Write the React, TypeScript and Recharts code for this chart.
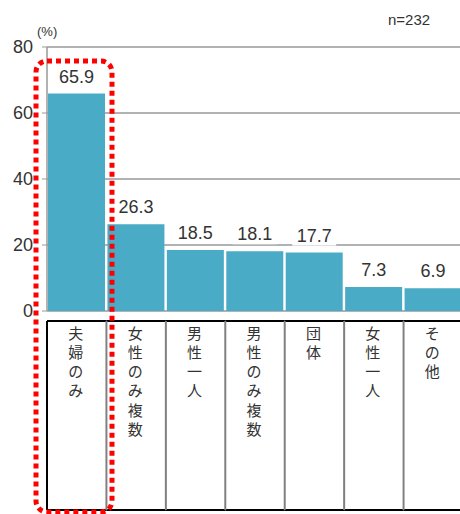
import { BarChart, Bar, XAxis, YAxis, CartesianGrid, LabelList } from "recharts";

const categories = ["夫婦のみ", "女性のみ複数", "男性一人", "男性のみ複数", "団体", "女性一人", "その他"];
const shares = [65.9, 26.3, 18.5, 18.1, 17.7, 7.3, 6.9];
const yTicks = [0, 20, 40, 60, 80];

const data = categories.map((name, i) => ({ name, value: shares[i] }));

const CHART_W = 470;
const CHART_H = 514;
const X_AXIS_H = 203;
const MARGIN = { top: 47, right: 7, bottom: 0, left: 0 };
const Y_AXIS_W = 47;
const BAND = (CHART_W - MARGIN.left - MARGIN.right - Y_AXIS_W) / categories.length;

const NUM_FONT = "'Liberation Sans', Arial, sans-serif";
const JP_FONT = "'Noto Sans CJK JP', sans-serif";
const BAR_COLOR = "#4aabc6";

// table cell under each bar: borders plus the label written top-to-bottom
function TableTick(props: any) {
  const { x, y, payload, index } = props;
  const left = x - BAND / 2;
  const right = x + BAND / 2;
  const top = y + 10;
  const bottom = y + 199;
  const chars = Array.from(String(payload.value));
  return (
    <g>
      <line x1={left} x2={right} y1={top} y2={top} stroke="#000" strokeWidth={2} />
      <line x1={left} x2={right} y1={bottom} y2={bottom} stroke="#000" strokeWidth={2} />
      <line
        x1={left}
        x2={left}
        y1={top}
        y2={bottom}
        stroke={index === 0 ? "#000" : "#808080"}
        strokeWidth={2}
      />
      {chars.map((c, i) => (
        <text
          key={i}
          x={x - 1}
          y={y + 21 + i * 19.3}
          textAnchor="middle"
          dominantBaseline="central"
          fontFamily={JP_FONT}
          fontSize={15}
          fill="#333"
        >
          {c}
        </text>
      ))}
    </g>
  );
}

function ValueLabel(props: any) {
  const { x, y, width, value } = props;
  const cx = x + width / 2;
  const cy = y - 17;
  return (
    <g>
      <rect x={cx - 22} y={cy - 10} width={44} height={20} fill="#fff" />
      <text
        x={cx}
        y={cy}
        textAnchor="middle"
        dominantBaseline="central"
        fontFamily={NUM_FONT}
        fontSize={18}
        fill="#333"
      >
        {value}
      </text>
    </g>
  );
}

// unit, sample size and the red highlight around the first column
function Overlay() {
  return (
    <svg
      width={CHART_W}
      height={CHART_H}
      style={{ position: "absolute", left: 0, top: 0, pointerEvents: "none" }}
    >
      <text x={37} y={36} fontFamily={NUM_FONT} fontSize={13} fill="#333">
        (%)
      </text>
      <text x={388} y={25} fontFamily={NUM_FONT} fontSize={15} fill="#333">
        n=232
      </text>
      <rect
        x={36}
        y={61}
        width={76}
        height={451}
        rx={11}
        fill="none"
        stroke="#ff0000"
        strokeWidth={5}
        strokeDasharray="5 4"
      />
    </svg>
  );
}

export default function App() {
  return (
    <div
      style={{
        position: "fixed",
        left: 0,
        top: 0,
        width: 460,
        height: 514,
        overflow: "hidden",
        background: "#fff",
      }}
    >
      <BarChart width={CHART_W} height={CHART_H} data={data} margin={MARGIN} barCategoryGap={1}>
        <CartesianGrid vertical={false} stroke="#999" strokeWidth={1.5} />
        <XAxis
          dataKey="name"
          axisLine={false}
          tickLine={false}
          tickSize={0}
          tickMargin={0}
          interval={0}
          height={X_AXIS_H}
          tick={<TableTick />}
        />
        <YAxis
          domain={[0, 80]}
          ticks={yTicks}
          width={Y_AXIS_W}
          axisLine={{ stroke: "#999", strokeWidth: 1.5 }}
          tickLine={{ stroke: "#999" }}
          tickSize={5}
          tickMargin={9}
          tick={{ fill: "#333", fontSize: 18, fontFamily: NUM_FONT }}
        />
        <Bar dataKey="value" fill={BAR_COLOR} isAnimationActive={false}>
          <LabelList dataKey="value" content={<ValueLabel />} />
        </Bar>
      </BarChart>
      <Overlay />
    </div>
  );
}
